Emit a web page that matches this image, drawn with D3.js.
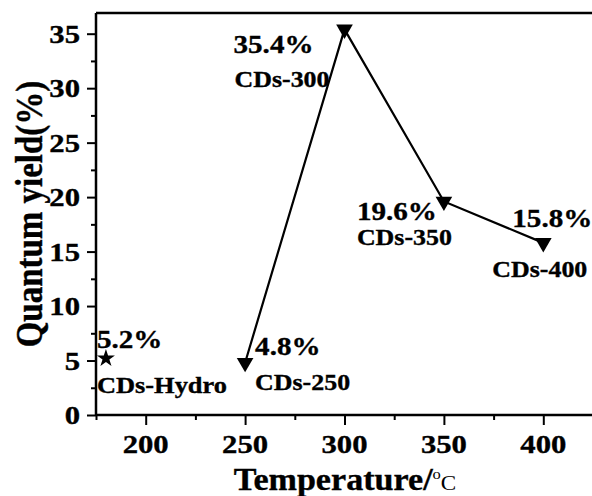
<!DOCTYPE html>
<html>
<head>
<meta charset="utf-8">
<script src="https://cdn.jsdelivr.net/npm/d3@7"></script>
<style>
  html, body { margin: 0; padding: 0; background: #fff; }
  svg { display: block; }
  text { font-family: "Liberation Serif", "Times New Roman", serif; font-weight: bold; fill: #000; stroke: #000; stroke-width: 0.35px; }
</style>
</head>
<body>
<script>
// ---- data ----
const temperatures = [250, 300, 350, 400];
const yields = [4.8, 35.4, 19.6, 15.8];
const sampleNames = ["CDs-250", "CDs-300", "CDs-350", "CDs-400"];
const hydroTemperature = [180];
const hydroYield = [5.2];
const hydroName = ["CDs-Hydro"];
const xTicks = [200, 250, 300, 350, 400];
const yTicks = [0, 5, 10, 15, 20, 25, 30, 35];
const xTitle = "Temperature/";
const yTitle = "Quantum yield(%)";

// ---- layout ----
const W = 592, H = 496;
const mLeft = 96, mRight = 593, mTop = 13, mBottom = 415;
// label offsets (value label, name label) relative to each point
const mainOffsets = [
  {pv: [10, -8], pn: [10, 27]},
  {pv: [-111, 24], pn: [-110, 58]},
  {pv: [-87, 19], pn: [-87, 44]},
  {pv: [-31, -16], pn: [-51, 34]}
];
const hydroOffsets = [{pv: [-9, -10], pn: [-9, 35]}];

const svg = d3.select("body").append("svg").attr("width", W).attr("height", H);

const x = d3.scaleLinear().domain([175, 425]).range([mLeft, mRight]);
const y = d3.scaleLinear().domain([0, 36.9]).range([mBottom, mTop]);

function stretchedText(g, px, py, str, size, sx, anchor) {
  return g.append("text")
    .attr("transform", `translate(${px},${py}) scale(${sx},1)`)
    .attr("text-anchor", anchor || "start")
    .style("font-size", size + "px")
    .text(str);
}

// frame (top line)
svg.append("line").attr("x1", mLeft).attr("x2", W).attr("y1", mTop).attr("y2", mTop)
  .attr("stroke", "#000").attr("stroke-width", 2.5);

// y axis
const yAxis = d3.axisLeft(y).tickValues(yTicks).tickSize(9).tickFormat("");
const gy = svg.append("g").attr("transform", `translate(${mLeft},0)`).call(yAxis);
gy.select(".domain").attr("stroke-width", 2.5).attr("d", `M0,${mBottom}V${mTop}`);
gy.selectAll(".tick line").attr("stroke-width", 2);
const yMinor = d3.axisLeft(y).tickValues(d3.range(2.5, 36.9, 5)).tickSize(5).tickFormat("");
const gym = svg.append("g").attr("transform", `translate(${mLeft},0)`).call(yMinor);
gym.select(".domain").remove();
gym.selectAll(".tick line").attr("stroke-width", 2);
yTicks.forEach(v => {
  stretchedText(svg, 80, y(v) + 9, String(v), 26, 1.18, "end");
});

// x axis
const xAxis = d3.axisBottom(x).tickValues(xTicks).tickSize(10).tickFormat("");
const gx = svg.append("g").attr("transform", `translate(0,${mBottom})`).call(xAxis);
gx.select(".domain").attr("stroke-width", 2.5).attr("d", `M${mLeft},0H${W}`);
gx.selectAll(".tick line").attr("stroke-width", 2);
const xMinor = d3.axisBottom(x).tickValues([175, 225, 275, 325, 375]).tickSize(5).tickFormat("");
const gxm = svg.append("g").attr("transform", `translate(0,${mBottom})`).call(xMinor);
gxm.select(".domain").remove();
gxm.selectAll(".tick line").attr("stroke-width", 2);
xTicks.forEach(v => {
  stretchedText(svg, x(v), 453, String(v), 26, 1.18, "middle");
});

// axis titles
const xt = svg.append("text")
  .attr("transform", "translate(345,490) scale(1.1,1)")
  .attr("text-anchor", "middle")
  .style("font-size", "31px");
xt.append("tspan").text(xTitle);
xt.append("tspan").style("font-size", "15px").style("font-weight", "normal").style("stroke-width", "0").attr("dy", -11).text("o");
xt.append("tspan").style("font-size", "21px").style("font-weight", "normal").style("stroke-width", "0").attr("dy", 11).text("C");

svg.append("text")
  .attr("transform", "translate(42,214) rotate(-90) scale(1,1.15)")
  .attr("text-anchor", "middle")
  .style("font-size", "33px")
  .text(yTitle);

// line
const pts = temperatures.map((t, i) => [x(t), y(yields[i])]);
svg.append("path")
  .attr("d", d3.line()(pts))
  .attr("fill", "none").attr("stroke", "#000").attr("stroke-width", 2.2);

// markers
const tri = d3.symbol().type(d3.symbolTriangle).size(120);
svg.selectAll("path.tri").data(temperatures).enter().append("path")
  .attr("class", "tri")
  .attr("d", tri)
  .attr("transform", (t, i) => `translate(${x(t)},${y(yields[i])}) rotate(180)`)
  .attr("fill", "#000");

const star = d3.symbol().type(d3.symbolStar).size(100);
svg.selectAll("path.star").data(hydroTemperature).enter().append("path")
  .attr("class", "star")
  .attr("d", star)
  .attr("transform", (t, i) => `translate(${x(t)},${y(hydroYield[i])})`)
  .attr("fill", "#000");

// labels
temperatures.forEach((t, i) => {
  const px = x(t), py = y(yields[i]), o = mainOffsets[i];
  stretchedText(svg, px + o.pv[0], py + o.pv[1], yields[i].toFixed(1) + "%", 26, 1.12);
  stretchedText(svg, px + o.pn[0], py + o.pn[1], sampleNames[i], 24, 1.08);
});
hydroTemperature.forEach((t, i) => {
  const px = x(t), py = y(hydroYield[i]), o = hydroOffsets[i];
  stretchedText(svg, px + o.pv[0], py + o.pv[1], hydroYield[i].toFixed(1) + "%", 26, 1.12);
  stretchedText(svg, px + o.pn[0], py + o.pn[1], hydroName[i], 24, 1.1);
});
</script>
</body>
</html>
